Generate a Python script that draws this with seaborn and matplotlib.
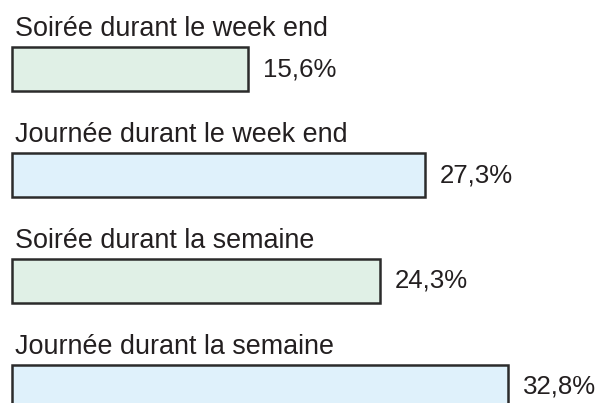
import matplotlib
matplotlib.use("Agg")
import matplotlib.pyplot as plt
import pandas as pd
import seaborn as sns

# Data
categories = [
    "Soirée durant le week end",
    "Journée durant le week end",
    "Soirée durant la semaine",
    "Journée durant la semaine",
]
values = [15.6, 27.3, 24.3, 32.8]
value_labels = ["15,6%", "27,3%", "24,3%", "32,8%"]
bar_colors = ["#e0f0e6", "#dff1fb", "#e0f0e6", "#dff1fb"]


def main():
    sns.set_theme(style="white")
    plt.rcParams["font.family"] = ["Liberation Sans", "DejaVu Sans"]

    df = pd.DataFrame({"categorie": categories, "valeur": values})

    fig = plt.figure(figsize=(5.99, 4.03), dpi=100)
    ax = fig.add_axes([0, 0, 1, 1])

    sns.barplot(
        data=df,
        x="valeur",
        y="categorie",
        hue="categorie",
        palette=bar_colors,
        saturation=1,
        orient="h",
        width=0.41,
        edgecolor="#2b2b2b",
        linewidth=1.8,
        legend=False,
        ax=ax,
    )

    # Category label above each bar, value to the right of it
    for i, (cat, val, lab) in enumerate(zip(categories, values, value_labels)):
        ax.text(0.2, i - 0.375, cat, ha="left", va="center",
                fontsize=19.4, color="#231f20")
        ax.text(val + 1.0, i, lab, ha="left", va="center",
                fontsize=18.6, color="#231f20")

    ax.set_xlim(-0.79, 38.8)
    ax.set_ylim(3.151, -0.651)
    ax.axis("off")

    fig.savefig("out.png", dpi=100, facecolor="white")
    plt.close(fig)


if __name__ == "__main__":
    main()
